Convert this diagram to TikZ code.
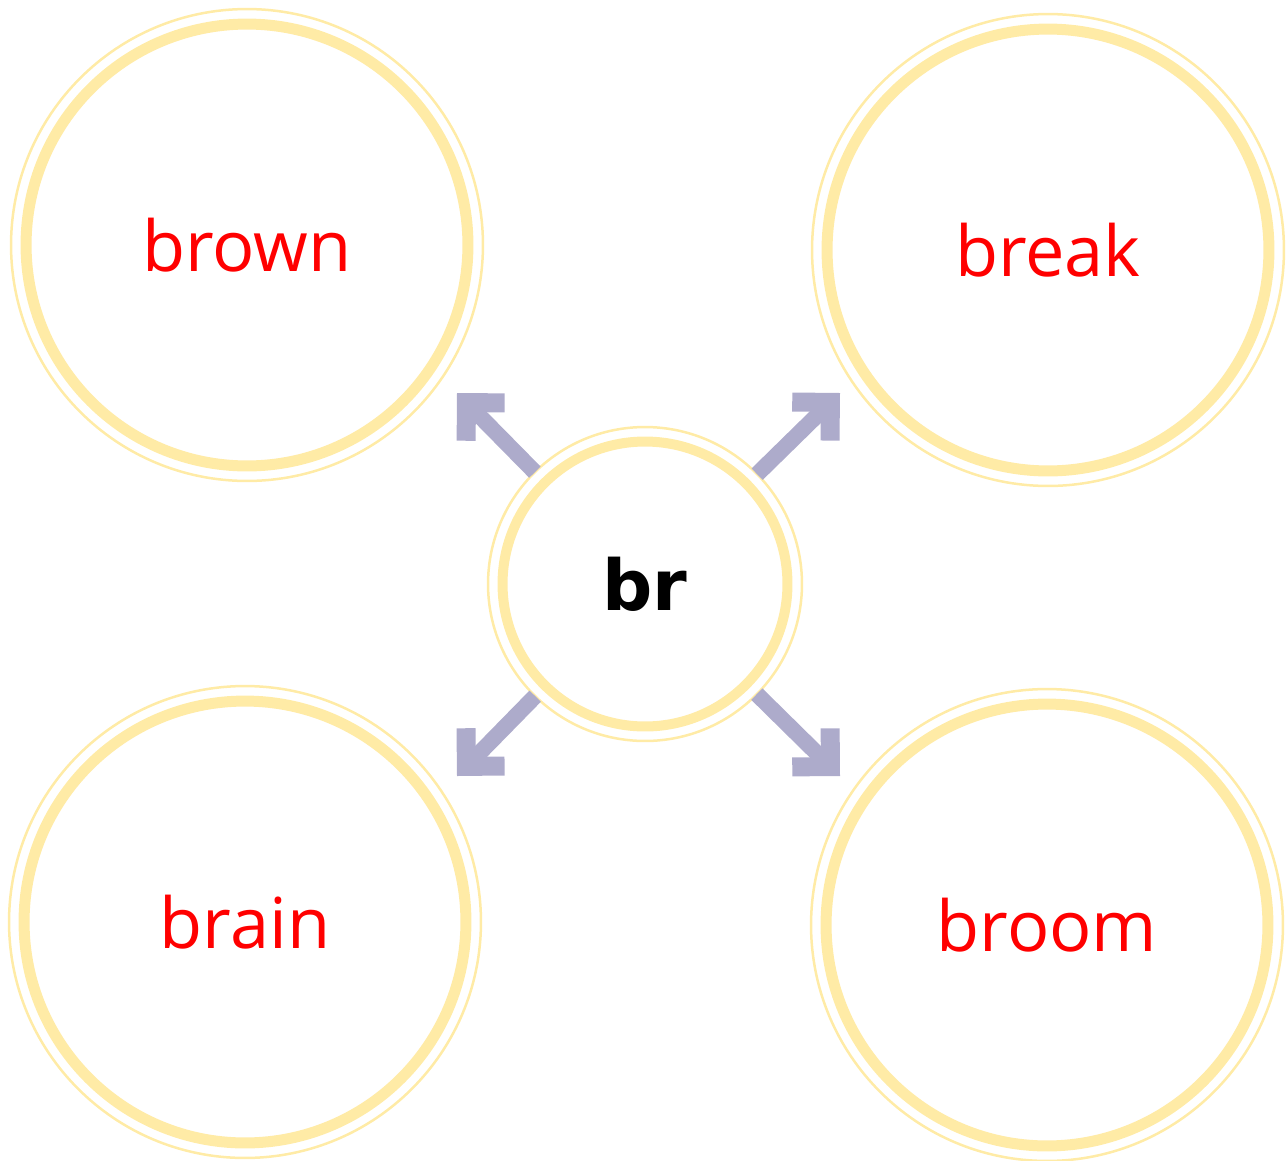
\documentclass[tikz,border=0pt]{standalone}
\usepackage{fontspec}
\usetikzlibrary{arrows.meta}
\newfontfamily\wordfont{Open Sans}
\newfontfamily\rootfont{DejaVu Sans}
\definecolor{ringyellow}{HTML}{FFEBA6}
\definecolor{arrowblue}{HTML}{ADABCB}
\definecolor{wordred}{HTML}{FF0000}

\tikzset{
  bigring/.style={circle, draw=ringyellow, line width=0.22cm, fill=white, inner sep=0pt,
    minimum size=8.84cm, text=wordred, font=\wordfont\fontsize{40}{48}\selectfont},
  rootring/.style={circle, draw=ringyellow, line width=0.2cm, fill=white, inner sep=0pt,
    minimum size=5.7cm, font=\rootfont\bfseries\fontsize{40}{48}\selectfont},
  thinring/.style={draw=ringyellow, line width=0.05cm},
  wordarrow/.style={draw=arrowblue, line width=0.32cm, shorten <=0.19cm,
    -{Straight Barb[sharp, length=0.54cm, width=1.08cm, line width=0.38cm]}}
}

\begin{document}
\begin{tikzpicture}[x=0.02cm, y=-0.02cm]
\useasboundingbox (0,0) rectangle (1288,1160);
% word circles
\node [bigring] (brown) at (247,245) {brown};
\node [bigring] (break) at (1048,250) {break};
\node [bigring] (brain) at (245,922) {brain};
\node [bigring] (broom) at (1047,925) {broom};
\node [rootring] (root) at (645,584) {br};
% thin outer rings
\draw [thinring] (brown.center) circle [radius=4.72cm];
\draw [thinring] (break.center) circle [radius=4.72cm];
\draw [thinring] (brain.center) circle [radius=4.72cm];
\draw [thinring] (broom.center) circle [radius=4.72cm];
\draw [thinring] (root.center) circle [radius=3.14cm];
% arrows
\coordinate (tipbrown) at (457,393);
\coordinate (tipbreak) at (840,393);
\coordinate (tipbrain) at (457,776);
\coordinate (tipbroom) at (840,776);
\draw [wordarrow] (root) -- (tipbrown);
\draw [wordarrow] (root) -- (tipbreak);
\draw [wordarrow] (root) -- (tipbrain);
\draw [wordarrow] (root) -- (tipbroom);
\end{tikzpicture}
\end{document}
